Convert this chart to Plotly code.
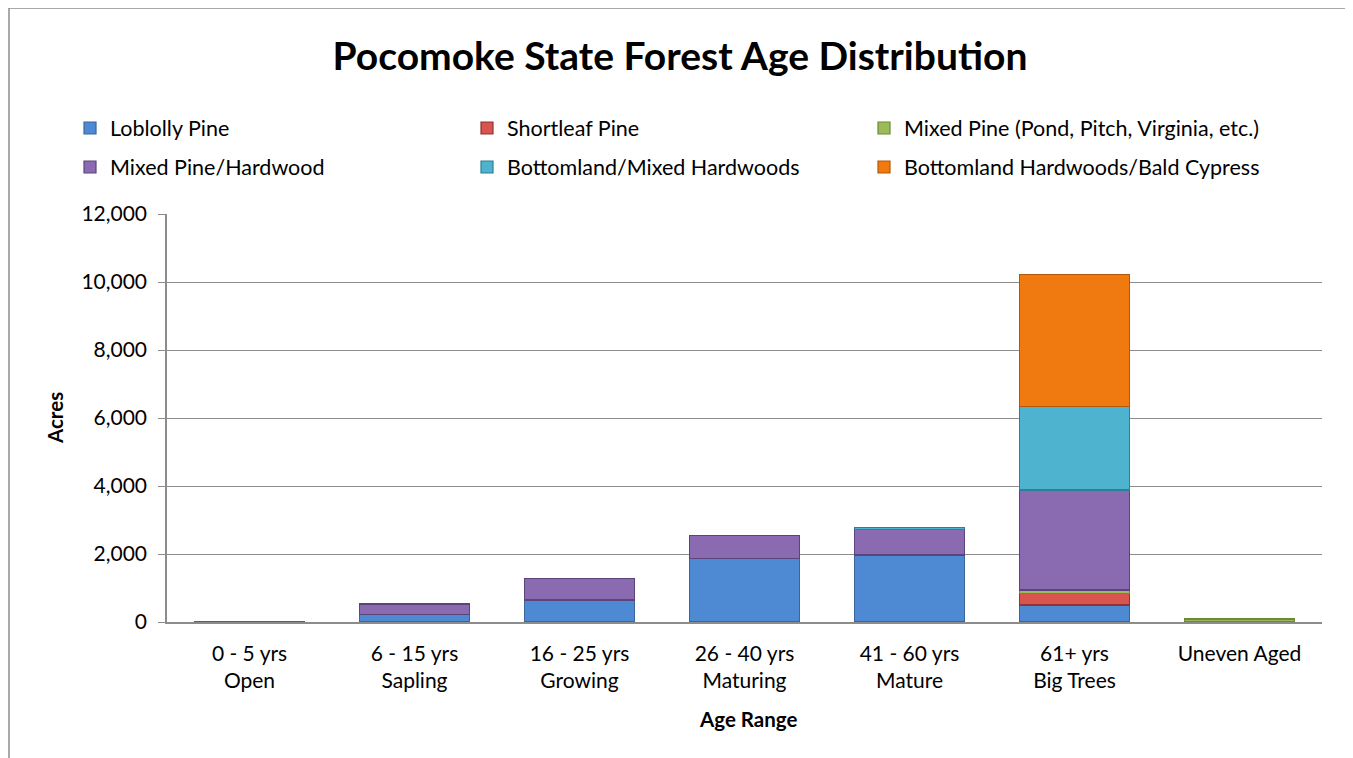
import plotly.graph_objects as go

categories = ["0 - 5 yrs<br>Open", "6 - 15 yrs<br>Sapling", "16 - 25 yrs<br>Growing",
              "26 - 40 yrs<br>Maturing", "41 - 60 yrs<br>Mature", "61+ yrs<br>Big Trees", "Uneven Aged"]
loblolly = [25, 230, 650, 1860, 1970, 500, None]
shortleaf = [None, None, None, None, None, 330, None]
mixed_pine = [None, None, None, None, None, 110, 90]
mixed_pine_hardwood = [None, 300, 620, 680, 760, 2940, None]
bottomland_mixed = [None, None, None, None, 40, 2470, None]
bottomland_bald = [None, None, None, None, None, 3880, None]
y_ticks = [0, 2000, 4000, 6000, 8000, 10000, 12000]

series = [
    ("Loblolly Pine", loblolly, "#4D8AD3", "#3A6699", "legend"),
    ("Shortleaf Pine", shortleaf, "#D9534F", "#8E3432", "legend"),
    ("Mixed Pine (Pond, Pitch, Virginia, etc.)", mixed_pine, "#9BBB59", "#6B8A36", "legend"),
    ("Mixed Pine/Hardwood", mixed_pine_hardwood, "#8A6AB0", "#5B4479", "legend2"),
    ("Bottomland/Mixed Hardwoods", bottomland_mixed, "#4DB3CF", "#2F7E94", "legend2"),
    ("Bottomland Hardwoods/Bald Cypress", bottomland_bald, "#F07A10", "#B25808", "legend2"),
]

fig = go.Figure()
for name, vals, col, line, lg in series:
    fig.add_trace(go.Bar(name=name, x=categories, y=vals, legend=lg,
                         marker=dict(color=col, line=dict(color=line, width=1.2))))

OFF = 8  # page body margin
W, H = 1353 - OFF, 758 - OFF
# plot area in page coordinates
PL, PR, PT, PB = 167, 1322, 214, 622
ml, mr, mt, mb = PL - OFF, W - (PR - OFF), PT - OFF, H - (PB - OFF)
pw, ph = W - ml - mr, H - mt - mb

def px(x):
    return (x - OFF - ml) / pw

def py(y):
    return (H - mb - (y - OFF)) / ph

border = dict(color="#8C8C8C", width=1.5)
fig.add_shape(type="line", xref="paper", yref="paper", x0=px(9), x1=px(9), y0=py(8), y1=py(770), line=border)
fig.add_shape(type="line", xref="paper", yref="paper", x0=px(9), x1=px(1349), y0=py(8), y1=py(8), line=border)
fig.add_shape(type="line", xref="paper", yref="paper", x0=px(1349), x1=px(1349), y0=py(8), y1=py(770), line=border)

FONT = "Lato, Open Sans, sans-serif"
fig.add_annotation(text="<b>Acres</b>", xref="paper", yref="paper", x=px(41), y=py(418),
                   textangle=-90, showarrow=False, font=dict(size=20.5, family=FONT))
fig.add_annotation(text="<b>Age Range</b>", xref="paper", yref="paper", x=px(748), y=py(733),
                   showarrow=False, font=dict(size=20.5, family=FONT))

leg_common = dict(orientation="h", xanchor="left", yanchor="middle",
                  entrywidth=352, entrywidthmode="pixels", traceorder="normal",
                  font=dict(size=21.5, family=FONT), itemwidth=30)
fig.update_layout(
    width=W, height=H,
    barmode="stack", bargap=1/3,
    plot_bgcolor="white", paper_bgcolor="white",
    margin=dict(l=ml, r=mr, t=mt, b=mb),
    font=dict(family=FONT, size=21, color="#000000"),
    title=dict(text="<b>Pocomoke State Forest Age Distribution</b>", x=px(680), xref="paper",
               xanchor="center", y=1 - (56 - OFF) / H, yanchor="middle",
               font=dict(size=39, family=FONT)),
    legend=dict(x=px(70), y=py(128), **leg_common),
    legend2=dict(x=px(70), y=py(167), **leg_common),
    xaxis=dict(showgrid=False, showline=True, linecolor="#8C8C8C", linewidth=1.5,
               ticks="", tickfont=dict(size=21), ticklabelstandoff=12),
    yaxis=dict(range=[0, 12000], tickvals=y_ticks, tickformat=",d",
               showgrid=True, gridcolor="#8C8C8C", gridwidth=1,
               showline=True, linecolor="#8C8C8C", linewidth=1.5,
               ticks="outside", ticklen=7, tickcolor="#8C8C8C",
               tickfont=dict(size=21), zeroline=False, ticklabelstandoff=7),
)
fig.write_html("out.html")
